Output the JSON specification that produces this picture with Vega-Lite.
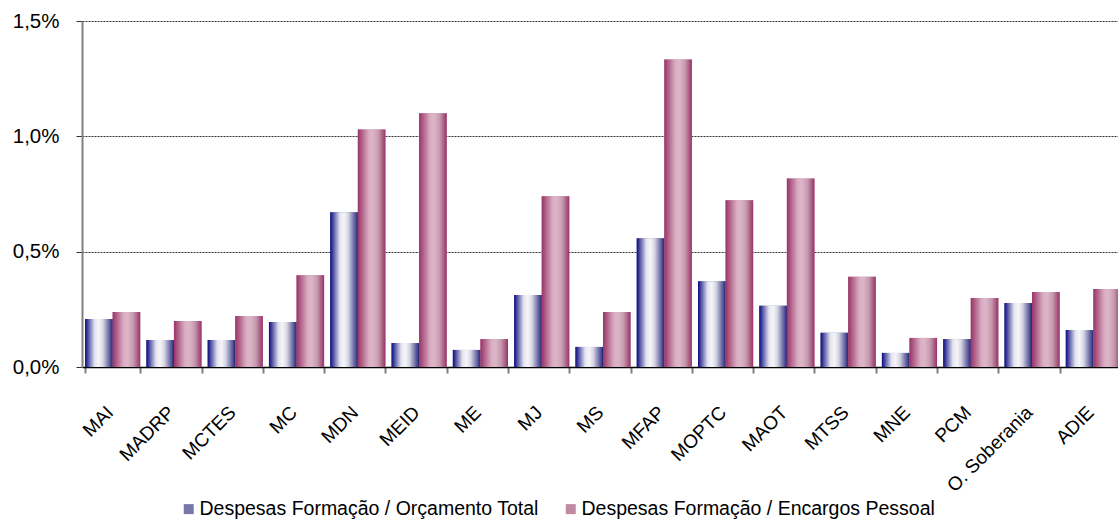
{
  "$schema": "https://vega.github.io/schema/vega-lite/v6.json",
  "autosize": {"type": "none"},
  "padding": {"left": 82, "top": 21, "right": 0, "bottom": 152},
  "width": 1036,
  "height": 346,
  "background": "white",
  "data": {
    "values": [
      {"org": "MAI", "serie": "Despesas Formação / Orçamento Total", "valor": 0.00208},
      {"org": "MAI", "serie": "Despesas Formação / Encargos Pessoal", "valor": 0.00238},
      {"org": "MADRP", "serie": "Despesas Formação / Orçamento Total", "valor": 0.00117},
      {"org": "MADRP", "serie": "Despesas Formação / Encargos Pessoal", "valor": 0.00199},
      {"org": "MCTES", "serie": "Despesas Formação / Orçamento Total", "valor": 0.00117},
      {"org": "MCTES", "serie": "Despesas Formação / Encargos Pessoal", "valor": 0.00221},
      {"org": "MC", "serie": "Despesas Formação / Orçamento Total", "valor": 0.00195},
      {"org": "MC", "serie": "Despesas Formação / Encargos Pessoal", "valor": 0.00398},
      {"org": "MDN", "serie": "Despesas Formação / Orçamento Total", "valor": 0.00671},
      {"org": "MDN", "serie": "Despesas Formação / Encargos Pessoal", "valor": 0.0103},
      {"org": "MEID", "serie": "Despesas Formação / Orçamento Total", "valor": 0.00104},
      {"org": "MEID", "serie": "Despesas Formação / Encargos Pessoal", "valor": 0.0110},
      {"org": "ME", "serie": "Despesas Formação / Orçamento Total", "valor": 0.00074},
      {"org": "ME", "serie": "Despesas Formação / Encargos Pessoal", "valor": 0.00121},
      {"org": "MJ", "serie": "Despesas Formação / Orçamento Total", "valor": 0.00312},
      {"org": "MJ", "serie": "Despesas Formação / Encargos Pessoal", "valor": 0.0074},
      {"org": "MS", "serie": "Despesas Formação / Orçamento Total", "valor": 0.00087},
      {"org": "MS", "serie": "Despesas Formação / Encargos Pessoal", "valor": 0.00238},
      {"org": "MFAP", "serie": "Despesas Formação / Orçamento Total", "valor": 0.00558},
      {"org": "MFAP", "serie": "Despesas Formação / Encargos Pessoal", "valor": 0.01333},
      {"org": "MOPTC", "serie": "Despesas Formação / Orçamento Total", "valor": 0.00372},
      {"org": "MOPTC", "serie": "Despesas Formação / Encargos Pessoal", "valor": 0.00723},
      {"org": "MAOT", "serie": "Despesas Formação / Orçamento Total", "valor": 0.00265},
      {"org": "MAOT", "serie": "Despesas Formação / Encargos Pessoal", "valor": 0.00817},
      {"org": "MTSS", "serie": "Despesas Formação / Orçamento Total", "valor": 0.00148},
      {"org": "MTSS", "serie": "Despesas Formação / Encargos Pessoal", "valor": 0.00391},
      {"org": "MNE", "serie": "Despesas Formação / Orçamento Total", "valor": 0.00061},
      {"org": "MNE", "serie": "Despesas Formação / Encargos Pessoal", "valor": 0.00126},
      {"org": "PCM", "serie": "Despesas Formação / Orçamento Total", "valor": 0.00121},
      {"org": "PCM", "serie": "Despesas Formação / Encargos Pessoal", "valor": 0.00299},
      {"org": "O. Soberania", "serie": "Despesas Formação / Orçamento Total", "valor": 0.00277},
      {"org": "O. Soberania", "serie": "Despesas Formação / Encargos Pessoal", "valor": 0.00325},
      {"org": "ADIE", "serie": "Despesas Formação / Orçamento Total", "valor": 0.0016},
      {"org": "ADIE", "serie": "Despesas Formação / Encargos Pessoal", "valor": 0.00338}
    ]
  },
  "encoding": {
    "x": {
      "field": "org",
      "type": "nominal",
      "sort": null,
      "scale": {"paddingInner": 0.1, "paddingOuter": 0.05, "range": [0, 1042]},
      "axis": {
        "title": null,
        "labelAngle": -45,
        "labelAlign": "right",
        "labelBaseline": "middle",
        "labelFontSize": 19,
        "labelColor": "black",
        "labelPadding": 36,
        "labelOffset": -3,
        "tickBand": "extent",
        "tickColor": "#808080",
        "tickWidth": 2,
        "tickSize": 6,
        "domainColor": "black",
        "domainWidth": 1.5,
        "labelOverlap": false
      }
    },
    "xOffset": {
      "field": "serie",
      "sort": null,
      "scale": {"domain": ["Despesas Formação / Orçamento Total", "Despesas Formação / Encargos Pessoal"], "paddingInner": 0, "paddingOuter": 0}
    },
    "y": {
      "field": "valor",
      "type": "quantitative",
      "scale": {"domain": [0, 0.015], "nice": false},
      "axis": {
        "title": null,
        "values": [0, 0.005, 0.01, 0.015],
        "labelExpr": "replace(format(datum.value, '.1%'), '.', ',')",
        "labelFontSize": 20.5,
        "labelColor": "black",
        "labelPadding": 17,
        "tickSize": 6,
        "tickColor": "#333333",
        "domainColor": "#808080",
        "domainWidth": 2,
        "gridColor": "#333333",
        "gridDash": [2, 1],
        "gridWidth": 1
      }
    }
  },
  "layer": [
    {
      "mark": {"type": "bar"},
      "encoding": {
        "color": {
          "field": "serie",
          "type": "nominal",
          "sort": null,
          "scale": {
            "domain": ["Despesas Formação / Orçamento Total", "Despesas Formação / Encargos Pessoal"],
            "range": ["#7777aa", "#c08aa4"]
          },
          "legend": {
            "title": null,
            "orient": "none",
            "direction": "horizontal",
            "legendX": 97,
            "legendY": 478,
            "symbolType": "square",
            "symbolSize": 100,
            "symbolStrokeWidth": 0,
            "labelFontSize": 19.5,
            "labelColor": "black",
            "labelOffset": 1,
            "columnPadding": 22,
            "labelLimit": 500,
            "encode": {
              "symbols": {
                "update": {
                  "fill": {"signal": "datum.index == 0 ? {gradient: 'linear', x1: 0, y1: 0, x2: 1, y2: 0, stops: [{offset: 0, color: '#0a0a80'}, {offset: 0.5, color: '#f5f5f9'}, {offset: 1, color: '#1a1a78'}]} : {gradient: 'linear', x1: 0, y1: 0, x2: 1, y2: 0, stops: [{offset: 0, color: '#993366'}, {offset: 0.5, color: '#ddb5c8'}, {offset: 1, color: '#993366'}]}"}
                }
              }
            }
          }
        }
      }
    },
    {
      "mark": {"type": "bar"},
      "encoding": {
        "fill": {
          "condition": {
            "test": "datum.serie === 'Despesas Formação / Orçamento Total'",
            "value": {"gradient": "linear", "x1": 0, "y1": 0, "x2": 1, "y2": 0, "stops": [
              {"offset": 0, "color": "#0a0a80"},
              {"offset": 0.35, "color": "#e4e4ef"},
              {"offset": 0.5, "color": "#f5f5f9"},
              {"offset": 0.65, "color": "#d6d6e4"},
              {"offset": 0.95, "color": "#40408a"},
              {"offset": 1, "color": "#1a1a78"}
            ]}
          },
          "value": {"gradient": "linear", "x1": 0, "y1": 0, "x2": 1, "y2": 0, "stops": [
            {"offset": 0, "color": "#993366"},
            {"offset": 0.4, "color": "#d9aec3"},
            {"offset": 0.55, "color": "#ddb5c8"},
            {"offset": 0.75, "color": "#c49aae"},
            {"offset": 1, "color": "#993366"}
          ]}
        }
      }
    }
  ],
  "config": {
    "view": {"stroke": null},
    "font": "Liberation Sans"
  }
}
